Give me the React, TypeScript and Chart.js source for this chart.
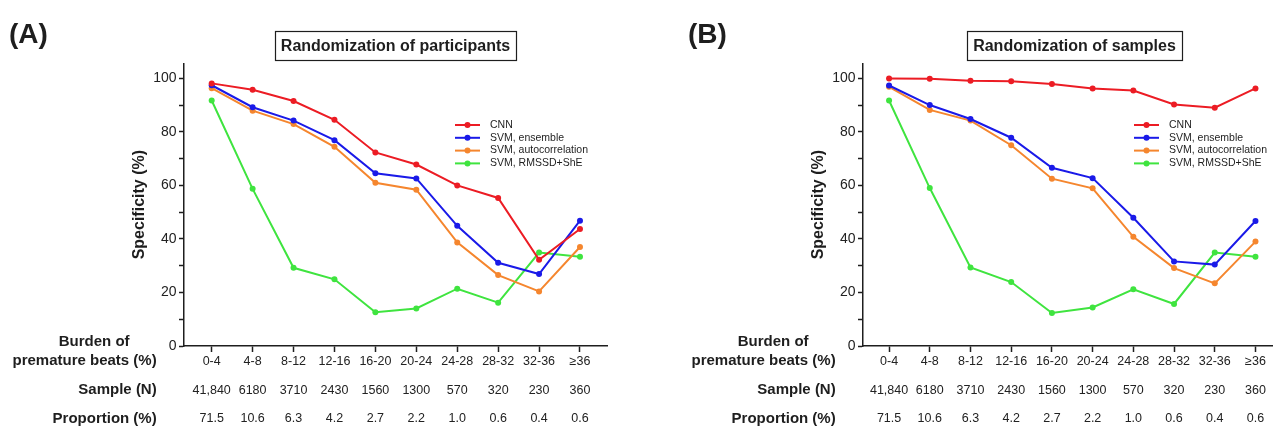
import { useEffect, useRef } from 'react';
import { Chart, registerables } from 'chart.js';

Chart.register(...registerables);

const FONT = "'Liberation Sans', Arial, Helvetica, sans-serif";

// ---- data ----
const burdenLabels = ['0-4', '4-8', '8-12', '12-16', '16-20', '20-24', '24-28', '28-32', '32-36', '≥36'];
const sampleN = ['41,840', '6180', '3710', '2430', '1560', '1300', '570', '320', '230', '360'];
const proportionPct = ['71.5', '10.6', '6.3', '4.2', '2.7', '2.2', '1.0', '0.6', '0.4', '0.6'];
const yTickValues = [0, 10, 20, 30, 40, 50, 60, 70, 80, 90, 100];

const seriesNames = ['CNN', 'SVM, ensemble', 'SVM, autocorrelation', 'SVM, RMSSD+ShE'];
const seriesColors = ['#ec1c24', '#1a1ae8', '#f5862e', '#3fe43f'];

// (A) Randomization of participants
const participantsCNN = [98.1, 95.7, 91.5, 84.5, 72.3, 67.8, 60.0, 55.3, 32.2, 43.7];
const participantsEnsemble = [97.4, 89.2, 84.2, 76.9, 64.5, 62.6, 44.9, 31.1, 26.9, 46.8];
const participantsAutocorr = [96.3, 87.9, 82.9, 74.4, 61.0, 58.4, 38.7, 26.5, 20.4, 37.0];
const participantsRmssd = [91.7, 58.7, 29.2, 24.9, 12.6, 14.0, 21.4, 16.2, 34.9, 33.3];

// (B) Randomization of samples
const samplesCNN = [99.9, 99.8, 99.1, 98.9, 97.9, 96.2, 95.4, 90.2, 89.0, 96.2];
const samplesEnsemble = [97.3, 90.0, 84.8, 77.8, 66.6, 62.7, 47.9, 31.6, 30.4, 46.7];
const samplesAutocorr = [96.8, 88.2, 84.2, 75.0, 62.5, 58.9, 40.8, 29.1, 23.4, 39.0];
const samplesRmssd = [91.7, 59.0, 29.3, 23.9, 12.3, 14.4, 21.2, 15.7, 34.9, 33.3];

const INK = '#1e1e1e';

function makeDecor(panelLabel: string, title: string) {
  return {
    id: 'decor' + panelLabel,
    afterDraw(chart: any) {
      const { ctx, chartArea } = chart;
      ctx.save();
      ctx.fillStyle = INK;
      // panel label
      ctx.font = `bold 28px ${FONT}`;
      ctx.textAlign = 'left';
      ctx.textBaseline = 'middle';
      ctx.fillText(panelLabel, 9, 35);
      // boxed title
      ctx.font = `bold 16px ${FONT}`;
      ctx.textAlign = 'center';
      const tw = ctx.measureText(title).width;
      const cx = 395.5;
      ctx.strokeStyle = INK;
      ctx.lineWidth = 1.2;
      ctx.strokeRect(Math.round(cx - tw / 2 - 6) + 0.5, 31.5, Math.round(tw + 12), 29);
      ctx.fillText(title, cx, 46.5);
      // legend
      ctx.font = `10.5px ${FONT}`;
      chart.data.datasets.forEach((ds: any, i: number) => {
        const y = chartArea.top + 61.7 + i * 12.8;
        const x0 = chartArea.left + 271;
        ctx.strokeStyle = ds.borderColor;
        ctx.lineWidth = 2;
        ctx.beginPath();
        ctx.moveTo(x0, y);
        ctx.lineTo(x0 + 25, y);
        ctx.stroke();
        ctx.fillStyle = ds.borderColor;
        ctx.beginPath();
        ctx.arc(x0 + 12.5, y, 3, 0, Math.PI * 2);
        ctx.fill();
        ctx.fillStyle = INK;
        ctx.textAlign = 'left';
        ctx.fillText(ds.label, x0 + 35, y);
      });
      // row labels
      ctx.font = `bold 15px ${FONT}`;
      const rx = chartArea.left - 27.3;
      const b = chartArea.bottom;
      ctx.textAlign = 'right';
      ctx.fillText('premature beats (%)', rx, b + 14.7);
      ctx.fillText('Sample (N)', rx, b + 44);
      ctx.fillText('Proportion (%)', rx, b + 73);
      ctx.textAlign = 'center';
      ctx.fillText('Burden of', rx - 62.5, b - 4.3);
      ctx.restore();
    },
  };
}

type PanelProps = {
  left: number;
  width: number;
  padRight: number;
  xMin: number;
  xMax: number;
  panelLabel: string;
  title: string;
  series: number[][];
};

function ChartPanel(props: PanelProps) {
  const ref = useRef<HTMLCanvasElement | null>(null);
  useEffect(() => {
    if (!ref.current) return;
    const order = [0, 1, 2, 3];
    const chart = new Chart(ref.current, {
      type: 'line',
      data: {
        datasets: order.map((k) => ({
          label: seriesNames[k],
          data: props.series[k].map((v, i) => ({ x: i, y: v })),
          borderColor: seriesColors[k],
          backgroundColor: seriesColors[k],
          borderWidth: 2,
          pointRadius: 3,
          pointBorderWidth: 0,
          pointBackgroundColor: seriesColors[k],
          tension: 0,
          fill: false,
        })),
      },
      options: {
        animation: false,
        responsive: false,
        devicePixelRatio: 1,
        layout: { padding: { top: 63.3, left: 0, right: props.padRight, bottom: 0 } },
        plugins: {
          legend: { display: false },
          title: { display: false },
          tooltip: { enabled: false },
        },
        scales: {
          x: {
            type: 'linear',
            min: props.xMin,
            max: props.xMax,
            afterBuildTicks: (s: any) => {
              s.ticks = burdenLabels.map((_, i) => ({ value: i }));
            },
            afterFit: (s: any) => {
              s.height = 81;
            },
            ticks: {
              autoSkip: false,
              maxRotation: 0,
              minRotation: 0,
              padding: -4.7,
              color: '#222',
              font: { family: FONT, size: 12.5, lineHeight: 2.29 },
              callback: (v: any) => {
                const i = Math.round(Number(v));
                return [burdenLabels[i], sampleN[i], proportionPct[i]];
              },
            },
            grid: {
              drawOnChartArea: false,
              drawTicks: true,
              tickLength: 6,
              tickColor: INK,
              tickWidth: 1.5,
            },
            border: { display: true, color: INK, width: 1.5 },
          },
          y: {
            type: 'linear',
            min: 0,
            max: 105.6,
            afterBuildTicks: (s: any) => {
              s.ticks = yTickValues.map((v) => ({ value: v }));
            },
            afterFit: (s: any) => {
              s.width = 184;
            },
            ticks: {
              padding: 2.5,
              color: '#222',
              font: { family: FONT, size: 14 },
              callback: (v: any) => (Number(v) % 20 === 0 ? String(v) : ''),
            },
            grid: {
              drawOnChartArea: false,
              drawTicks: true,
              tickLength: 5,
              tickColor: INK,
              tickWidth: 1.5,
            },
            border: { display: true, color: INK, width: 1.5 },
            title: {
              display: true,
              text: 'Specificity (%)',
              color: INK,
              font: { family: FONT, size: 16, weight: 'bold' },
              padding: { top: 130, bottom: 0 },
            },
          },
        },
      },
      plugins: [makeDecor(props.panelLabel, props.title)],
    } as any);
    return () => chart.destroy();
  }, []);
  return (
    <div style={{ position: 'absolute', left: props.left, top: 0, width: props.width, height: 427 }}>
      <canvas ref={ref} width={props.width} height={427} style={{ display: 'block', width: props.width, height: 427 }} />
    </div>
  );
}

export default function App() {
  return (
    <div
      style={{
        position: 'absolute',
        left: 0,
        top: 0,
        width: 1276,
        height: 427,
        background: '#fff',
        overflow: 'hidden',
      }}
    >
      <ChartPanel
        left={0}
        width={620}
        padRight={13}
        xMin={-0.677}
        xMax={9.66}
        panelLabel="(A)"
        title="Randomization of participants"
        series={[participantsCNN, participantsEnsemble, participantsAutocorr, participantsRmssd]}
      />
      <ChartPanel
        left={679}
        width={597}
        padRight={0}
        xMin={-0.64}
        xMax={9.406}
        panelLabel="(B)"
        title="Randomization of samples"
        series={[samplesCNN, samplesEnsemble, samplesAutocorr, samplesRmssd]}
      />
    </div>
  );
}
